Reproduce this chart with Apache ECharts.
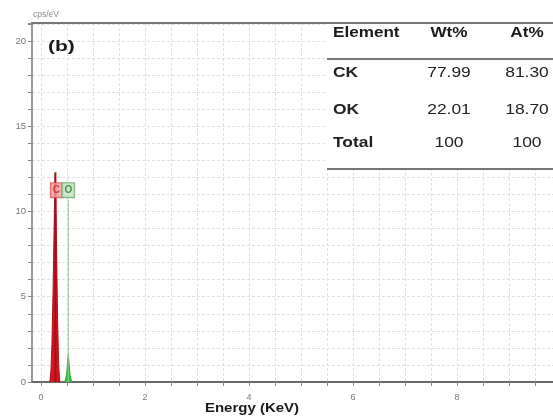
<!DOCTYPE html>
<html>
<head>
<meta charset="utf-8">
<script src="https://cdn.jsdelivr.net/npm/echarts@6/dist/echarts.min.js"></script>
<style>
  html, body { margin: 0; padding: 0; background: #fff; }
  #chart { width: 553px; height: 416px; }
</style>
</head>
<body>
<div id="chart"></div>
<script>
// EDS spectrum: carbon and oxygen K lines
const carbonPeak = [
  [0.17, 0], [0.19, 0.6], [0.21, 2.2], [0.23, 5.0], [0.25, 8.6], [0.265, 11.4],
  [0.275, 12.2], [0.285, 11.0], [0.30, 7.6], [0.32, 3.6], [0.34, 1.0], [0.36, 0]
];
const oxygenPeak = [
  [0.46, 0], [0.49, 0.4], [0.51, 1.1], [0.525, 1.6], [0.54, 1.1], [0.56, 0.4], [0.59, 0]
];

// element markers: symbol, line energy (keV), marker line height (cps/eV)
const elementNames = ['C', 'O'];
const elementEnergy = [0.277, 0.525];
const elementMarkerTop = [12.3, 10.7];
const elementLabelLevel = [11.25, 11.25];

// axis ticks
const xTickValues = [0, 0.5, 1, 1.5, 2, 2.5, 3, 3.5, 4, 4.5, 5, 5.5, 6, 6.5, 7, 7.5, 8, 8.5, 9, 9.5];
const xLabelValues = [0, 2, 4, 6, 8];
const yLabelStep = 5;

// composition table
const tableHeader = ['Element', 'Wt%', 'At%'];
const tableElements = ['CK', 'OK', 'Total'];
const tableWt = ['77.99', '22.01', '100'];
const tableAt = ['81.30', '18.70', '100'];

const chart = echarts.init(document.getElementById('chart'), null, { renderer: 'canvas' });

const gridLine = { show: true, lineStyle: { color: '#e0e0e0', width: 1, type: [3, 2] } };
const X_MIN = -0.173, X_MAX = 9.846;
const font = 'Liberation Sans, Arial, sans-serif';

const markerStyles = [
  { line: '#a0121e', bg: '#f29b9b', border: '#d84a4a', text: '#c42a2a' },
  { line: '#9cc09c', bg: '#bfe3bf', border: '#5fa35f', text: '#2b7a2b' }
];

const series = [
  {
    type: 'line', data: carbonPeak, symbol: 'none', z: 3,
    lineStyle: { color: '#b3101c', width: 1 },
    areaStyle: { color: '#d9141c', opacity: 1 }
  },
  {
    type: 'line', data: oxygenPeak, symbol: 'none', z: 3,
    lineStyle: { color: '#20b828', width: 1 },
    areaStyle: { color: '#2ac832', opacity: 1 }
  }
];

elementNames.forEach((name, i) => {
  const st = markerStyles[i];
  series.push({
    type: 'line', symbol: 'none', z: 4, silent: true,
    data: [[elementEnergy[i], 0], [elementEnergy[i], elementMarkerTop[i]]],
    lineStyle: { color: st.line, width: i === 0 ? 2 : 1 }
  });
  series.push({
    type: 'scatter', symbolSize: 0, z: 6, silent: true,
    data: [[elementEnergy[i] + (i === 0 ? 0.02 : 0), elementLabelLevel[i]]],
    label: {
      show: true, position: 'inside', formatter: name,
      fontFamily: font, fontSize: 10, fontWeight: 'bold',
      color: st.text, backgroundColor: st.bg, borderColor: st.border, borderWidth: 1,
      padding: [2, 2, 2, 2]
    }
  });
});

// horizontally widened text, anchored at (x, y)
function wideText(text, x, y, size, bold, align, sx, fill) {
  return {
    type: 'text', z: 12, x: x, y: y, scaleX: sx, scaleY: 1,
    style: { text: text, x: 0, y: 0, fill: fill || '#1a1a1a',
      font: (bold ? 'bold ' : '') + size + 'px ' + font,
      textAlign: align, textVerticalAlign: 'middle' }
  };
}

// table graphics
const tableGraphics = [
  { type: 'rect', shape: { x: 326, y: 24, width: 227, height: 145 }, style: { fill: '#fff' }, z: 10 },
  { type: 'line', shape: { x1: 327, y1: 59, x2: 553, y2: 59 }, style: { stroke: '#4a4a4a', lineWidth: 1.5 }, z: 11 },
  { type: 'line', shape: { x1: 327, y1: 169, x2: 553, y2: 169 }, style: { stroke: '#4a4a4a', lineWidth: 1.5 }, z: 11 }
];
const colX = [333, 449, 527];
const rowY = [73, 110, 143];
tableHeader.forEach((h, j) => {
  tableGraphics.push(wideText(h, colX[j], 33, 14.5, true, j === 0 ? 'left' : 'center', 1.18));
});
tableElements.forEach((el, r) => {
  [el, tableWt[r], tableAt[r]].forEach((c, j) => {
    tableGraphics.push(wideText(c, colX[j], rowY[r], 14.5, j === 0, j === 0 ? 'left' : 'center', 1.2, '#222'));
  });
});

const option = {
  animation: false,
  backgroundColor: '#fff',
  grid: { left: 32, right: 0, top: 23, bottom: 34 },
  xAxis: [
    {
      type: 'value', min: X_MIN, max: X_MAX, position: 'bottom',
      axisLine: { show: true, onZero: false, lineStyle: { color: '#6a6a6a', width: 2 } },
      axisTick: { show: true, customValues: xTickValues, length: 4, lineStyle: { color: '#888' } },
      axisLabel: { customValues: xLabelValues, color: '#777', fontSize: 9, margin: 11, fontFamily: font },
      splitLine: gridLine
    },
    {
      type: 'value', min: X_MIN, max: X_MAX, position: 'top',
      axisLine: { show: true, onZero: false, lineStyle: { color: '#777', width: 2 } },
      axisTick: { show: false }, axisLabel: { show: false }, splitLine: { show: false }
    }
  ],
  yAxis: {
    type: 'value', min: 0, max: 21.05, interval: 1,
    axisLine: { show: true, onZero: false, lineStyle: { color: '#777', width: 1.5 } },
    axisTick: { show: true, length: 4, lineStyle: { color: '#888' } },
    axisLabel: {
      color: '#777', fontSize: 9.5, margin: 6, fontFamily: font,
      formatter: v => (Math.abs(v % yLabelStep) < 1e-9 ? String(v) : '')
    },
    splitLine: gridLine
  },
  series: series,
  graphic: [
    { type: 'text', z: 12, style: { text: 'cps/eV', x: 33, y: 15, fill: '#888', font: '8.5px ' + font, textAlign: 'left', textVerticalAlign: 'middle' } },
    wideText('(b)', 48, 47, 14.5, true, 'left', 1.45),
    wideText('Energy (KeV)', 252, 409, 12, true, 'center', 1.25)
  ].concat(tableGraphics)
};

chart.setOption(option);
</script>
</body>
</html>
